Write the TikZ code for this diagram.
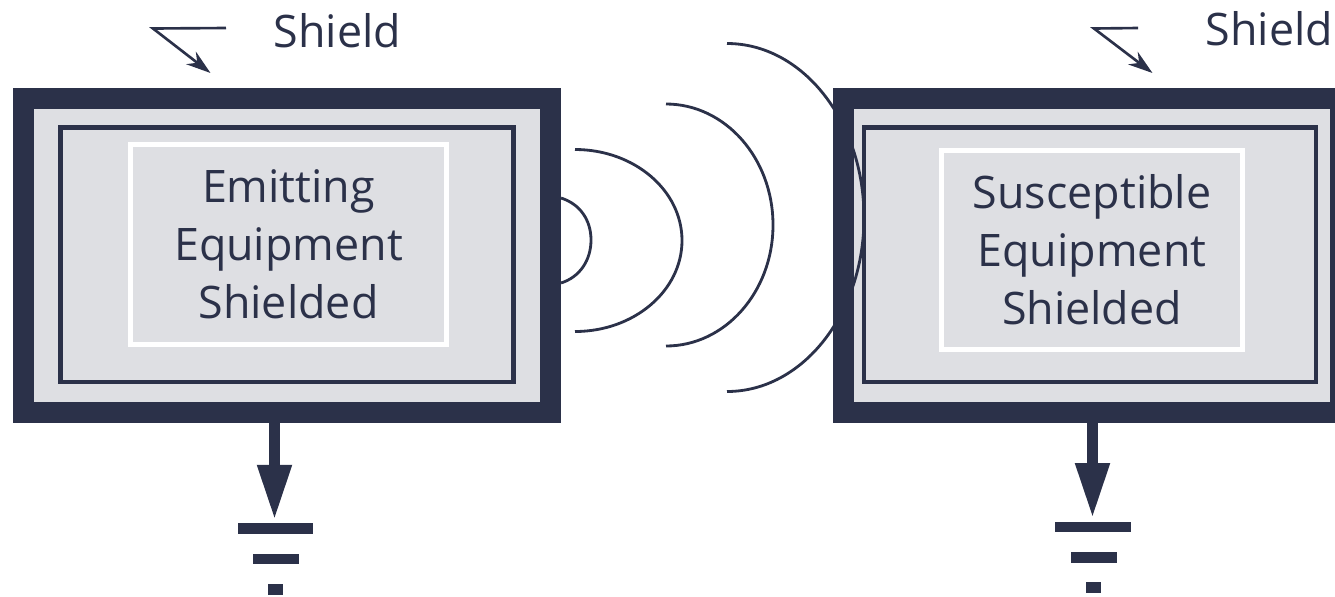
\documentclass[tikz,border=0pt]{standalone}
\usepackage{fontspec}
\setmainfont{Open Sans}
\usepackage{xcolor}
\usepackage{tikz}
\usetikzlibrary{arrows.meta, positioning, calc}
\definecolor{mynavy}{RGB}{43,49,73}
\definecolor{mygray}{RGB}{222,223,227}
\tikzset{
  shieldbox/.style={rectangle, draw=mynavy, fill=mygray, line width=11.95pt, inner sep=0pt},
  framebox/.style={rectangle, draw=mynavy, line width=2.6pt, inner sep=0pt},
  equipbox/.style={rectangle, draw=white, fill=mygray, line width=2.8pt, inner sep=0pt,
    text=mynavy, align=center, font=\fontsize{25.5}{33}\selectfont},
  shieldtext/.style={text=mynavy, inner sep=0pt, font=\fontsize{25.5}{28}\selectfont},
  wave/.style={draw=mynavy, line width=1.6pt},
  leader/.style={draw=mynavy, line width=1.5pt, -{Stealth[length=14pt, width=9pt, inset=4.5pt]}},
  groundarrow/.style={draw=mynavy, line width=6.2pt, -{Triangle[length=31.5pt, width=18.2pt]}, shorten >=1.6pt},
  groundbar/.style={rectangle, fill=mynavy, inner sep=0pt, minimum height=6.2pt}
}
\begin{document}
\begin{tikzpicture}[x=0.02cm, y=-0.02cm]
  \useasboundingbox (0,0) rectangle (1335,596);

  % Emitting side
  \node[shieldbox, minimum width=527*0.569pt, minimum height=314*0.569pt] (emitshield) at (287,255.5) {};
  \node[framebox, minimum width=453*0.569pt, minimum height=255*0.569pt] (emitframe) at (287,254.7) {};
  \node[equipbox, minimum width=316*0.569pt, minimum height=200*0.569pt] (emitbox) at (288.5,244.5) {Emitting\\Equipment\\Shielded};

  % Susceptible side
  \node[shieldbox, minimum width=497*0.569pt, minimum height=314*0.569pt] (suscshield) at (1092,255.5) {};
  \node[framebox, minimum width=452*0.569pt, minimum height=255*0.569pt] (suscframe) at (1090,254.7) {};
  \node[equipbox, minimum width=301*0.569pt, minimum height=199*0.569pt] (suscbox) at (1092,250) {Susceptible\\Equipment\\Shielded};

  % Waves
  \draw[wave] (561,198) .. controls (580,204) and (591,220) .. (591,240) .. controls (591,260) and (580,277) .. (561,283);
  \draw[wave] (575,149.5) arc[start angle=-90, end angle=90, x radius=107, y radius=91];
  \draw[wave] (666,104) arc[start angle=-90, end angle=90, x radius=107, y radius=121];
  \draw[wave] (727,43.5) arc[start angle=-90, end angle=90, x radius=137, y radius=174];

  % Labels
  \node[shieldtext] (emitlabel) at (337.5,31) {Shield};
  \node[shieldtext] (susclabel) at (1269.5,29) {Shield};

  % Leaders
  \coordinate (emitstart) at (226,28);
  \coordinate (emitbend) at (153,28.5);
  \coordinate (emittip) at (210.5,73);
  \draw[leader] (emitstart) -- (emitbend) -- (emittip);
  \coordinate (suscstart) at (1138,28);
  \coordinate (suscbend) at (1094,28.5);
  \coordinate (susctip) at (1152.5,73);
  \draw[leader] (suscstart) -- (suscbend) -- (susctip);

  % Grounds
  \node[groundbar, minimum width=76*0.569pt] (emitbarA) at (275.5,528.8) {};
  \node[groundbar, minimum width=46*0.569pt] (emitbarB) at (276,559) {};
  \node[groundbar, minimum width=15*0.569pt] (emitbarC) at (275.7,589.5) {};
  \node[groundbar, minimum width=76*0.569pt] (suscbarA) at (1093.3,527) {};
  \node[groundbar, minimum width=46*0.569pt] (suscbarB) at (1093.5,557.3) {};
  \node[groundbar, minimum width=15*0.569pt] (suscbarC) at (1093.5,587.5) {};
  \coordinate (emitdrop) at (274.5,423);
  \coordinate (suscdrop) at (1092.5,423);
  \draw[groundarrow] (emitdrop) -- (emitdrop |- emitbarA.north);
  \draw[groundarrow] (suscdrop) -- (suscdrop |- suscbarA.north);
\end{tikzpicture}
\end{document}
